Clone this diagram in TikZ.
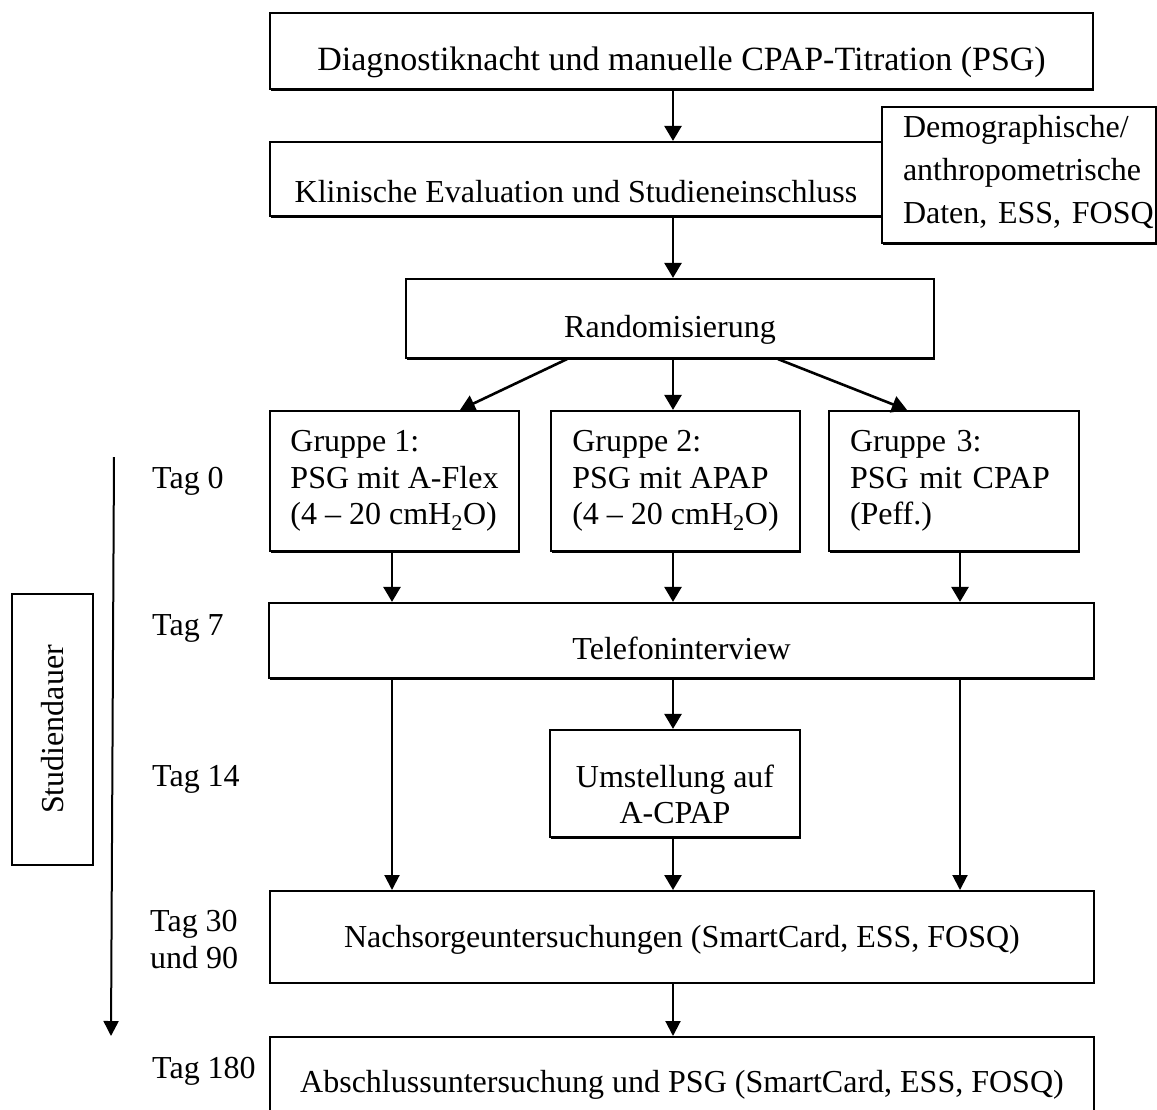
\documentclass[tikz,border=0pt]{standalone}
\usepackage{fontspec}
\setmainfont{Liberation Serif}
\usetikzlibrary{arrows.meta,shadows,calc}
\begin{document}
\begin{tikzpicture}[x=1pt,y=-1pt,
  every node/.style={font=\fontsize{32}{37}\selectfont},
  box/.style={draw, fill=white, line width=2.2pt, inner sep=0pt,
    drop shadow={shadow xshift=0.6pt,shadow yshift=-1.8pt,opacity=1,fill=black}},
  flat/.style={draw, fill=white, line width=2pt, inner sep=0pt},
  arr/.style={line width=2.6pt, -{Triangle[width=17pt,length=15pt]}},
  arrthin/.style={line width=2pt, -{Triangle[width=15pt,length=15pt]}},
  tag/.style={inner sep=0pt, anchor=base west},
]
\useasboundingbox (0,0) rectangle (1157,1109);
\clip (0,0) rectangle (1157,1109);

\coordinate (mx) at (673,0);
\coordinate (lx) at (392,0);
\coordinate (rx) at (960,0);

\node[box, minimum width=823, minimum height=76, text height=45pt, text depth=7pt,
  font=\fontsize{34}{40}\selectfont] (b1) at (681.5,51)
  {Diagnostiknacht und manuelle CPAP-Titration (PSG)};
\node[box, minimum width=612, minimum height=74, text height=53pt, text depth=7pt] (b2) at (576,179)
  {Klinische Evaluation und Studieneinschluss};
\node[box, minimum width=274, minimum height=136, align=left, text width=232pt, inner xsep=21pt,
  font=\fontsize{32}{43}\selectfont] (demo) at (1019,175)
  {\mbox{Demographische/}\\\mbox{anthropometrische}\\\mbox{Daten, ESS, FOSQ}\rule[-12pt]{0pt}{0pt}};
\node[box, minimum width=528, minimum height=79, text height=44pt, text depth=7pt] (rand) at (670,318.5)
  {Randomisierung};

\node[box, minimum width=249, minimum height=140, align=left, font=\fontsize{32}{36.5}\selectfont] (g1) at (394.5,481)
  {Gruppe 1:\\PSG mit A-Flex\\(4 -- 20 cmH\textsubscript{2}O)};
\node[box, minimum width=249, minimum height=140, align=left, font=\fontsize{32}{36.5}\selectfont] (g2) at (675.5,481)
  {Gruppe 2:\\PSG mit APAP\\(4 -- 20 cmH\textsubscript{2}O)};
\node[box, minimum width=250, minimum height=140, align=left, text width=208pt, inner xsep=21pt,
  font=\fontsize{32}{36.5}\selectfont] (g3) at (954,481)
  {Gruppe 3:\\PSG mit CPAP\\(Peff.)};

\node[box, minimum width=825, minimum height=75, text height=44pt, text depth=7pt] (tel) at (681.5,640.5)
  {Telefoninterview};
\node[box, minimum width=250, minimum height=107, align=center, font=\fontsize{32}{36}\selectfont] (ums) at (675,783.5)
  {\rule{0pt}{44pt}Umstellung auf\\A-CPAP};
\node[flat, minimum width=824, minimum height=92, text height=27pt, text depth=7pt] (nach) at (682,937)
  {Nachsorgeuntersuchungen (SmartCard, ESS, FOSQ)};
\node[flat, minimum width=824, minimum height=98, text height=19pt, text depth=7pt] (absch) at (682,1086)
  {Abschlussuntersuchung und PSG (SmartCard, ESS, FOSQ)};

\node[flat, rotate=90, minimum width=271, minimum height=81] (dauer) at (52.5,729.5) {Studiendauer};

\node[tag] (t0) at (152,488) {Tag 0};
\node[tag] (t7) at (152,635) {Tag 7};
\node[tag] (t14) at (152,786) {Tag 14};
\node[tag] (t30) at (150,931) {Tag 30};
\node[tag] (t90) at (150,968) {und 90};
\node[tag] (t180) at (152,1078) {Tag 180};

\coordinate (tlA) at (114,457);
\coordinate (tlB) at (111,1036);
\draw[arrthin] (tlA) -- (tlB);

\draw[arr] (b1.south -| mx) -- (b2.north -| mx);
\draw[arr] (b2.south -| mx) -- (rand.north -| mx);
\draw[arr] ([xshift=-103pt]rand.south) -- ([xshift=65.5pt]g1.north);
\draw[arr] (rand.south -| mx) -- (g2.north -| mx);
\draw[arr] ([xshift=108pt]rand.south) -- ([xshift=-47pt]g3.north);
\draw[arr] (g1.south -| lx) -- (tel.north -| lx);
\draw[arr] (g2.south -| mx) -- (tel.north -| mx);
\draw[arr] (g3.south -| rx) -- (tel.north -| rx);
\draw[arrthin] (tel.south -| lx) -- (nach.north -| lx);
\draw[arr] (tel.south -| mx) -- (ums.north -| mx);
\draw[arrthin] (tel.south -| rx) -- (nach.north -| rx);
\draw[arr] (ums.south -| mx) -- (nach.north -| mx);
\draw[arrthin] (nach.south -| mx) -- (absch.north -| mx);
\end{tikzpicture}
\end{document}
